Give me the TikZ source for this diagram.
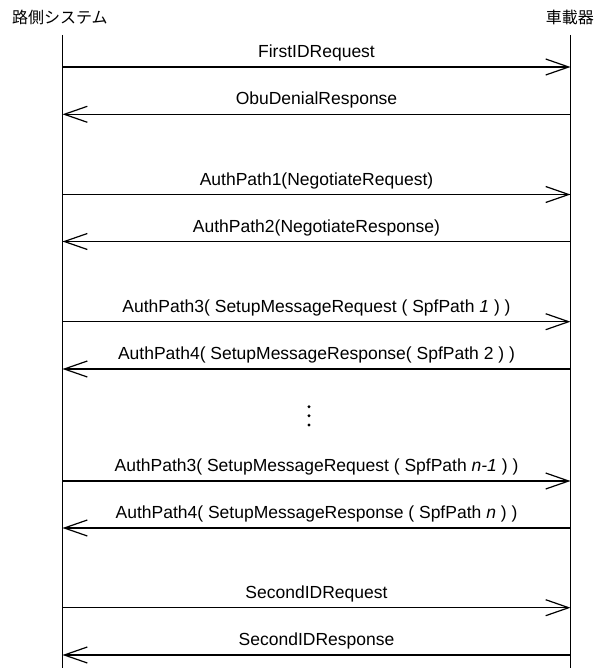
\documentclass[tikz,border=0pt]{standalone}
\usepackage{fontspec}
\setmainfont{Liberation Sans}
\newfontfamily\jpfont{Noto Sans CJK JP}
\usetikzlibrary{arrows.meta,positioning}

\begin{document}
\begin{tikzpicture}[x=1pt,y=1pt,
  lifeline/.style={line width=1.2pt},
  msg/.style={line width=1.2pt,-{Straight Barb[length=23pt,width=16pt,line width=1.2pt]}},
  lbl/.style={font=\fontsize{17.5}{21}\selectfont,anchor=base,yshift=9.3pt,inner sep=0pt},
  actor/.style={font=\jpfont\fontsize{16}{19}\selectfont,inner sep=0pt}
]
\useasboundingbox (0,0) rectangle (595,-668);

% Actors
\node[actor,anchor=west] (rsu) at (12,-17) {路側システム};
\node[actor,anchor=east] (obu) at (594,-17) {車載器};

% Lifelines
\coordinate (rsutop) at (62.5,-35);
\coordinate (rsubot) at (62.5,-668);
\coordinate (obutop) at (570.5,-35);
\coordinate (obubot) at (570.5,-668);
\draw[lifeline] (rsutop)--(rsubot);
\draw[lifeline] (obutop)--(obubot);

% Message points on the lifelines
\foreach \n/\y in {1/67,2/114.3,3/194.5,4/241.5,5/321.7,6/369,7/481,8/528,9/607.7,10/655}{
  \coordinate (rsu\n) at (62.5,-\y);
  \coordinate (obu\n) at (570.5,-\y);
}

% Messages
\draw[msg] (rsu1)--node[lbl] {FirstIDRequest} (obu1);
\draw[msg] (obu2)--node[lbl] {ObuDenialResponse} (rsu2);
\draw[msg] (rsu3)--node[lbl] {AuthPath1(NegotiateRequest)} (obu3);
\draw[msg] (obu4)--node[lbl] {AuthPath2(NegotiateResponse)} (rsu4);
\draw[msg] (rsu5)--node[lbl] {AuthPath3( SetupMessageRequest ( SpfPath \textit{1} ) )} (obu5);
\draw[msg] (obu6)--node[lbl] {AuthPath4( SetupMessageResponse( SpfPath 2 ) )} (rsu6);
\draw[msg] (rsu7)--node[lbl] {AuthPath3( SetupMessageRequest ( SpfPath \textit{n-1} ) )} (obu7);
\draw[msg] (obu8)--node[lbl] {AuthPath4( SetupMessageResponse ( SpfPath \textit{n} ) )} (rsu8);
\draw[msg] (rsu9)--node[lbl] {SecondIDRequest} (obu9);
\draw[msg] (obu10)--node[lbl] {SecondIDResponse} (rsu10);

% Ellipsis
\foreach \y in {406.7,415.8,425}
  \fill (309,-\y) circle (1.6);
\end{tikzpicture}
\end{document}
